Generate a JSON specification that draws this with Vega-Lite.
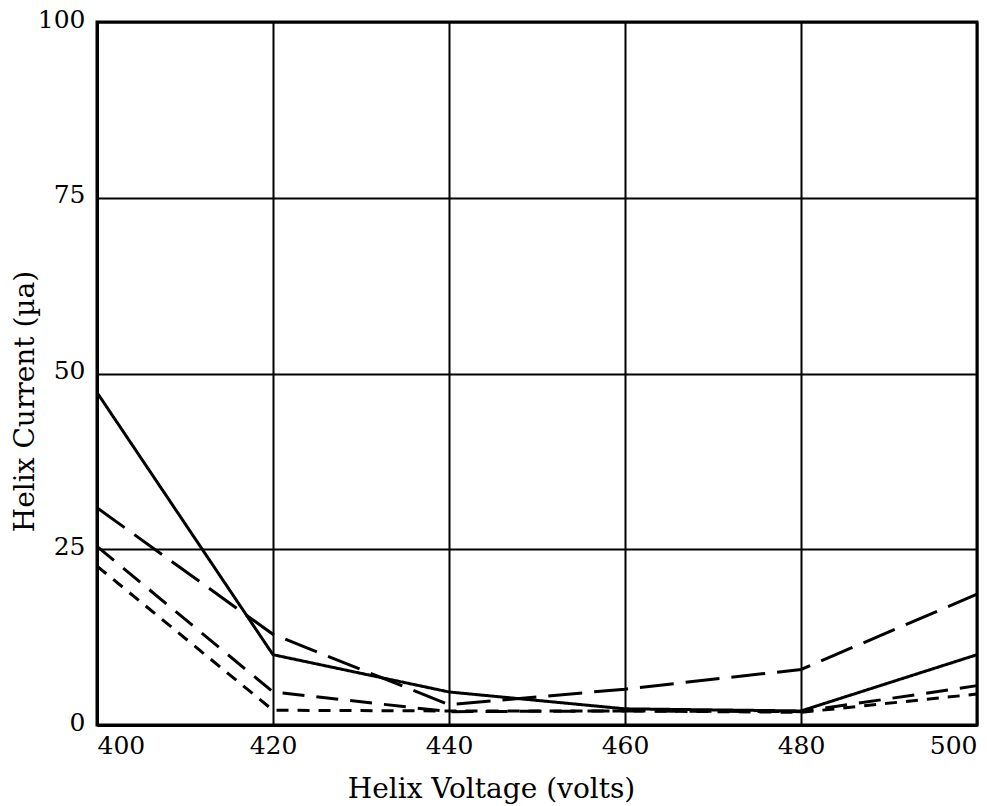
{
  "$schema": "https://vega.github.io/schema/vega-lite/v6.json",
  "autosize": "none",
  "width": 880,
  "height": 703,
  "padding": {"left": 97, "top": 22, "right": 10, "bottom": 81},
  "background": "white",
  "config": {
    "view": {"stroke": "black", "strokeWidth": 3},
    "font": "DejaVu Serif"
  },
  "data": {
    "values": [
      {"voltage": 400, "current": 47.3, "curve": "A"},
      {"voltage": 420, "current": 10.0, "curve": "A"},
      {"voltage": 440, "current": 4.7, "curve": "A"},
      {"voltage": 460, "current": 2.3, "curve": "A"},
      {"voltage": 480, "current": 2.0, "curve": "A"},
      {"voltage": 500, "current": 10.0, "curve": "A"},
      {"voltage": 400, "current": 30.9, "curve": "B"},
      {"voltage": 420, "current": 12.9, "curve": "B"},
      {"voltage": 440, "current": 2.9, "curve": "B"},
      {"voltage": 460, "current": 5.1, "curve": "B"},
      {"voltage": 480, "current": 7.9, "curve": "B"},
      {"voltage": 500, "current": 18.6, "curve": "B"},
      {"voltage": 400, "current": 25.4, "curve": "C"},
      {"voltage": 420, "current": 4.7, "curve": "C"},
      {"voltage": 440, "current": 1.9, "curve": "C"},
      {"voltage": 460, "current": 2.0, "curve": "C"},
      {"voltage": 480, "current": 1.9, "curve": "C"},
      {"voltage": 500, "current": 5.6, "curve": "C"},
      {"voltage": 400, "current": 22.6, "curve": "D"},
      {"voltage": 420, "current": 2.1, "curve": "D"},
      {"voltage": 440, "current": 2.0, "curve": "D"},
      {"voltage": 460, "current": 2.0, "curve": "D"},
      {"voltage": 480, "current": 1.8, "curve": "D"},
      {"voltage": 500, "current": 4.4, "curve": "D"}
    ]
  },
  "mark": {"type": "line", "color": "black", "strokeWidth": 3},
  "encoding": {
    "x": {
      "field": "voltage",
      "type": "quantitative",
      "scale": {"domain": [400, 500], "nice": false, "zero": false},
      "axis": {
        "values": [400, 420, 440, 460, 480, 500],
        "title": "Helix Voltage (volts)",
        "titleFont": "DejaVu Serif",
        "titleFontSize": 28,
        "titleFontWeight": "normal",
        "titleColor": "black",
        "titleX": 394,
        "titleY": 72,
        "titleBaseline": "alphabetic",
        "labelFont": "DejaVu Serif",
        "labelFontSize": 25,
        "labelColor": "black",
        "labelPadding": 8,
        "labelFlush": true,
        "labelFlushOffset": 0,
        "ticks": false,
        "domainColor": "black",
        "domainWidth": 3,
        "grid": true,
        "gridColor": "black",
        "gridWidth": 2,
        "gridOpacity": 1
      }
    },
    "y": {
      "field": "current",
      "type": "quantitative",
      "scale": {"domain": [0, 100], "nice": false},
      "axis": {
        "values": [0, 25, 50, 75, 100],
        "title": "Helix Current (µa)",
        "titleFont": "DejaVu Serif",
        "titleFontSize": 28,
        "titleFontWeight": "normal",
        "titleColor": "black",
        "titleX": -72,
        "titleY": 379,
        "titleBaseline": "middle",
        "labelFont": "DejaVu Serif",
        "labelFontSize": 25,
        "labelColor": "black",
        "labelPadding": 12,
        "labelFlush": false,
        "labelBaseline": "middle",
        "labelOffset": -3,
        "ticks": false,
        "domainColor": "black",
        "domainWidth": 3,
        "grid": true,
        "gridColor": "black",
        "gridWidth": 2,
        "gridOpacity": 1
      }
    },
    "strokeDash": {
      "field": "curve",
      "type": "nominal",
      "scale": {
        "domain": ["A", "B", "C", "D"],
        "range": [[1, 0], [34, 12], [22, 12], [12, 9]]
      },
      "legend": null
    }
  }
}
